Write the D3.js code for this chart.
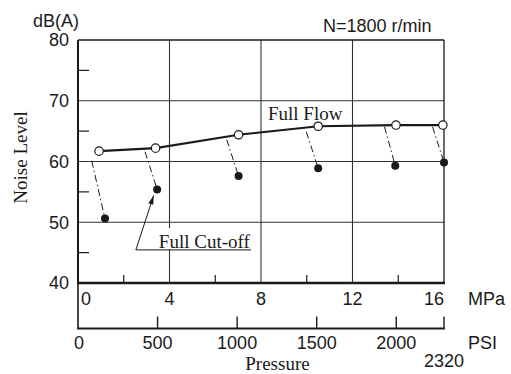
<!DOCTYPE html>
<html>
<head>
<meta charset="utf-8">
<script src="https://cdn.jsdelivr.net/npm/d3@7"></script>
<style>
  html, body { margin: 0; padding: 0; background: #fff; }
  svg { display: block; }
</style>
</head>
<body>
<svg id="chart" width="511" height="374"></svg>
<script>
// ---- data ----
const mpaTicks = [0, 4, 8, 12, 16];
const mpaMinor = [2, 6, 10, 14];
const dbTicks = [40, 50, 60, 70, 80];
const dbMinor = [45, 55, 65, 75];
const psiTicks = [0, 500, 1000, 1500, 2000];
const psiEnd = 2320;

// Full Flow (open circles)
const flowP  = [0.92, 3.39, 7.02, 10.5, 13.9, 15.95];
const flowDb = [61.7, 62.2, 64.4, 65.8, 66.0, 66.0];
// Full Cut-off (filled dots)
const cutP   = [1.18, 3.46, 7.02, 10.5, 13.87, 16.0];
const cutDb  = [50.6, 55.4, 57.6, 58.9, 59.3, 59.85];
// start points of the dash-dot drop lines
const dropP  = [0.6, 2.93, 6.5, 9.98, 13.4, 15.5];
const dropDb = [60.1, 61.6, 63.6, 64.9, 65.7, 65.7];

// ---- layout ----
const svg = d3.select("#chart");
const X0 = 78, X1 = 444, Y0 = 283, Y1 = 40, PSIY = 328.5;
const x = d3.scaleLinear().domain([0, 16]).range([X0, X1]);
const y = d3.scaleLinear().domain([40, 80]).range([Y0, Y1]);
const psi = d3.scaleLinear().domain([0, 2300]).range([X0, X1]).clamp(true);

const SANS = "'Liberation Sans', Arial, sans-serif";
const SERIF = "'Liberation Serif', 'Times New Roman', serif";
const ink = "#1a1a1a";

// grid
const g = svg.append("g");
g.selectAll(".hg").data([50, 60, 70]).join("line")
  .attr("x1", X0).attr("x2", X1).attr("y1", d => y(d)).attr("y2", d => y(d))
  .attr("stroke", "#333").attr("stroke-width", 1.1);
g.selectAll(".vg").data([4, 8, 12]).join("line")
  .attr("x1", d => x(d)).attr("x2", d => x(d)).attr("y1", Y1).attr("y2", Y0)
  .attr("stroke", "#333").attr("stroke-width", 1.1);
// frame top & right
g.append("line").attr("x1", X0).attr("x2", X1).attr("y1", Y1).attr("y2", Y1)
  .attr("stroke", ink).attr("stroke-width", 1.3);
g.append("line").attr("x1", X1).attr("x2", X1).attr("y1", Y1).attr("y2", Y0)
  .attr("stroke", ink).attr("stroke-width", 1.3);

// minor ticks
g.selectAll(".ym").data(dbMinor).join("line")
  .attr("x1", X0).attr("x2", X0 + 11).attr("y1", d => y(d)).attr("y2", d => y(d))
  .attr("stroke", ink).attr("stroke-width", 1.2);
g.selectAll(".xm").data(mpaMinor).join("line")
  .attr("x1", d => x(d)).attr("x2", d => x(d)).attr("y1", Y0).attr("y2", Y0 - 8)
  .attr("stroke", ink).attr("stroke-width", 1.2);

// axes lines
g.append("line").attr("x1", X0).attr("x2", X0).attr("y1", Y1).attr("y2", Y0)
  .attr("stroke", ink).attr("stroke-width", 2);
g.append("line").attr("x1", X0).attr("x2", X0).attr("y1", Y0).attr("y2", PSIY)
  .attr("stroke", ink).attr("stroke-width", 1.6);
g.append("line").attr("x1", X0 - 1).attr("x2", X1 + 1).attr("y1", Y0).attr("y2", Y0)
  .attr("stroke", ink).attr("stroke-width", 2.4);
g.append("line").attr("x1", X0 - 0.8).attr("x2", X1 + 0.8).attr("y1", PSIY).attr("y2", PSIY)
  .attr("stroke", ink).attr("stroke-width", 1.8);

// psi ticks
const psiAll = psiTicks.slice(1).concat([psiEnd]);
g.selectAll(".pt").data(psiAll).join("line")
  .attr("x1", d => psi(d)).attr("x2", d => psi(d)).attr("y1", PSIY).attr("y2", PSIY - 12)
  .attr("stroke", ink).attr("stroke-width", 1.4);

// labels
const t = svg.append("g").attr("fill", ink);
t.selectAll(".yl").data(dbTicks).join("text")
  .attr("x", 69).attr("y", d => y(d)).attr("dy", "0.36em")
  .attr("text-anchor", "end").attr("font-family", SANS).attr("font-size", 18)
  .text(d => d);
t.selectAll(".xl").data(mpaTicks).join("text")
  .attr("x", (d, i) => i === 0 ? x(d) + 3 : x(d))
  .attr("y", 304.5)
  .attr("text-anchor", (d, i) => i === 0 ? "start" : (i === mpaTicks.length - 1 ? "end" : "middle"))
  .attr("font-family", SANS).attr("font-size", 18)
  .text(d => d);
t.append("text").attr("x", 468).attr("y", 304.5).attr("font-family", SANS).attr("font-size", 18).text("MPa");
t.selectAll(".pl").data(psiTicks).join("text")
  .attr("x", d => psi(d) + (d === 0 ? 1 : 0)).attr("y", 349)
  .attr("text-anchor", "middle").attr("font-family", SANS).attr("font-size", 18)
  .text(d => d);
t.append("text").attr("x", psi(psiEnd)).attr("y", 366.5).attr("text-anchor", "middle")
  .attr("font-family", SANS).attr("font-size", 18).text(psiEnd);
t.append("text").attr("x", 468).attr("y", 349).attr("font-family", SANS).attr("font-size", 18).text("PSI");
t.append("text").attr("x", 33).attr("y", 27).attr("font-family", SANS).attr("font-size", 18).text("dB(A)");
t.append("text").attr("x", 323).attr("y", 31.5).attr("font-family", SANS).attr("font-size", 18).text("N=1800 r/min");
t.append("text").attr("transform", "translate(27,157.5) rotate(-90)").attr("text-anchor", "middle")
  .attr("font-family", SERIF).attr("font-size", 19).text("Noise Level");
t.append("text").attr("x", 277.5).attr("y", 369.5).attr("text-anchor", "middle")
  .attr("font-family", SERIF).attr("font-size", 19).text("Pressure");

// dash-dot drop lines
const m = svg.append("g");
m.selectAll(".drop").data(cutP).join("line")
  .attr("x1", (d, i) => x(dropP[i])).attr("y1", (d, i) => y(dropDb[i]))
  .attr("x2", (d, i) => x(d)).attr("y2", (d, i) => y(cutDb[i]))
  .attr("stroke", ink).attr("stroke-width", 1)
  .attr("stroke-dasharray", "7,3,1.5,3");

// full flow line
const flowPts = flowP.map((p, i) => [x(p), y(flowDb[i])]);
m.append("path").attr("d", d3.line()(flowPts))
  .attr("fill", "none").attr("stroke", ink).attr("stroke-width", 2.2);
m.selectAll(".oc").data(flowPts).join("circle")
  .attr("cx", d => d[0]).attr("cy", d => d[1]).attr("r", 4.2)
  .attr("fill", "#fff").attr("stroke", ink).attr("stroke-width", 1.2);
m.selectAll(".fc").data(cutP).join("circle")
  .attr("cx", d => x(d)).attr("cy", (d, i) => y(cutDb[i])).attr("r", 4)
  .attr("fill", ink);

// annotations
t.append("text").attr("x", 268).attr("y", 120).attr("font-family", SERIF).attr("font-size", 19).text("Full Flow");

// Full Cut-off label with white backing, underline and arrow
const annBaseP = 2.53, annDb = 45.45, annEndP = 7.57;
svg.append("rect").attr("x", x(annBaseP) + 21).attr("y", 228)
  .attr("width", x(annEndP) - x(annBaseP) - 20).attr("height", y(annDb) - 228 - 0.5)
  .attr("fill", "#fff");
svg.append("text").attr("x", x(annBaseP) + 23).attr("y", 248).attr("fill", ink)
  .attr("font-family", SERIF).attr("font-size", 19).text("Full Cut-off");
svg.append("line").attr("x1", x(annBaseP)).attr("x2", x(annEndP))
  .attr("y1", y(annDb)).attr("y2", y(annDb)).attr("stroke", ink).attr("stroke-width", 1);
// arrow toward second cut-off dot
const tx = x(cutP[1]) - 3.5, ty = y(cutDb[1]) + 6;
const bx = x(annBaseP), by = y(annDb);
svg.append("line").attr("x1", bx).attr("y1", by).attr("x2", tx).attr("y2", ty)
  .attr("stroke", ink).attr("stroke-width", 1);
const ang = Math.atan2(ty - by, tx - bx);
const L = 9, W = 2.6;
const ax = tx - L * Math.cos(ang), ay = ty - L * Math.sin(ang);
svg.append("path")
  .attr("d", `M${tx},${ty}L${ax + W * Math.sin(ang)},${ay - W * Math.cos(ang)}L${ax - W * Math.sin(ang)},${ay + W * Math.cos(ang)}Z`)
  .attr("fill", ink);
</script>
</body>
</html>
